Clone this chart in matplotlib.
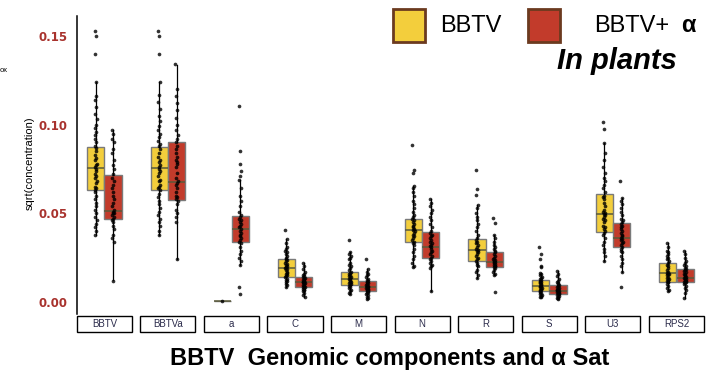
import numpy as np
import matplotlib.pyplot as plt
from matplotlib.patches import Rectangle
import matplotlib.transforms as mtransforms


#################################################
# Data (values are x 1000)
components = ["BBTV", "BBTVa", "a", "C", "M", "N", "R", "S", "U3", "RPS2"]

# BBTV alone
bbtv_q1 = [63.2, 63.2, 0.7, 14.3, 9.6, 33.7, 23.1, 6.4, 39.4, 11.5]
bbtv_med = [75.8, 75.8, 0.7, 19.0, 13.0, 40.6, 29.3, 9.2, 49.6, 16.2]
bbtv_q3 = [87.6, 87.6, 0.7, 24.1, 17.1, 46.6, 35.3, 12.4, 60.7, 22.2]
bbtv_lo = [37.8, 37.8, 0.7, 8.6, 4.3, 19.6, 13.3, 2.6, 23.3, 6.4]
bbtv_hi = [123.9, 123.9, 0.7, 35.5, 28.4, 65.6, 54.7, 16.2, 89.5, 33.1]

# BBTV + alpha sat
alpha_q1 = [46.6, 57.5, 33.7, 8.3, 6.2, 24.6, 19.9, 4.3, 31.2, 11.5]
alpha_med = [51.3, 67.7, 41.0, 11.5, 8.6, 31.2, 22.7, 6.4, 35.9, 13.4]
alpha_q3 = [71.6, 90.4, 48.7, 13.9, 12.0, 39.7, 28.4, 9.6, 44.4, 18.4]
alpha_lo = [12.4, 24.1, 20.9, 3.0, 1.7, 6.4, 15.2, 1.7, 17.1, 2.1]
alpha_hi = [97.0, 133.7, 68.8, 21.8, 18.4, 58.1, 37.8, 17.7, 58.5, 28.8]

bbtv_points = [
    [153, 150, 140, 124, 116, 114, 110, 106, 103, 100, 98, 96, 94, 92, 90, 88, 87, 85, 83, 81, 80, 78, 77,
     76, 75, 74, 72, 71, 70, 68, 67, 65, 64, 63, 62, 60, 58, 56, 54, 52, 50, 48, 46, 44, 42, 40, 38],
    [153, 150, 140, 124, 117, 113, 109, 105, 102, 99, 97, 95, 93, 91, 89, 88, 86, 84, 82, 80, 79, 77, 76,
     75, 74, 73, 71, 69, 68, 66, 65, 64, 63, 61, 59, 57, 55, 53, 51, 49, 47, 45, 43, 40, 38],
    [0.7],
    [40.6, 35.5, 33, 31, 30, 29, 28, 27, 26, 25, 24, 23.5, 23, 22, 21.5, 21, 20, 19.5, 19, 18.5, 18, 17,
     16.5, 16, 15, 14.5, 14, 13, 12.5, 12, 11, 10, 9.5, 8.6],
    [35, 28.4, 27, 26, 25, 24, 22, 21, 20, 19, 18, 17, 16.5, 16, 15, 14.5, 14, 13.5, 13, 12.5, 12, 11.5,
     11, 10.5, 10, 9.5, 9, 8.5, 8, 7, 6, 5, 4.3],
    [88.6, 74.5, 73, 65.6, 64, 62, 60, 57, 55, 53, 51, 49, 48, 47, 46, 45, 44, 43, 42, 41, 40.5, 40, 39,
     38, 37, 36, 35, 34, 33, 32, 30, 28, 26, 24, 22, 20.5, 19.6],
    [74.5, 63.5, 60.3, 54.7, 53, 50, 48, 46, 44, 42, 40, 38, 36, 35, 34, 33, 32, 31, 30, 29.5, 29, 28, 27,
     26, 25, 24, 23, 22, 21, 20, 18, 17, 15, 13.3],
    [31.2, 27.1, 24.3, 20.5, 19.5, 16.2, 15.5, 15, 14, 13.5, 13, 12.5, 12, 11.5, 11, 10.5, 10, 9.5, 9.2, 9,
     8.5, 8, 7.5, 7, 6.5, 6, 5.5, 5, 4.5, 4, 3.5, 3, 2.6],
    [101.3, 97.6, 89.5, 84, 80, 76, 73, 70, 68, 66, 64, 62, 60, 59, 58, 56, 54, 52, 51, 50, 49.5, 49, 48,
     47, 46, 45, 43, 42, 41, 40, 39, 38, 36, 34, 32, 30, 28, 26, 23.3],
    [33.1, 31, 29, 28, 27, 26, 25, 24, 23, 22, 21, 20, 19, 18, 17, 16.5, 16, 15.5, 15, 14, 13.5, 13, 12.5,
     12, 11.5, 11, 10, 9, 8, 7, 6.4],
]

alpha_points = [
    [97, 95, 92, 90, 86, 84, 80, 77, 75, 72, 70, 68, 66, 64, 62, 60, 58, 56, 54, 52, 51, 50, 50, 49, 48,
     47, 46, 45, 43, 41, 38, 36, 34, 12],
    [134, 120, 116, 112, 108, 104, 100, 97, 94, 92, 90, 88, 86, 84, 82, 80, 79, 78, 76, 73, 70, 68, 67,
     66, 64, 62, 60, 59, 58, 57, 55, 52, 50, 48, 45, 24],
    [110.7, 85.2, 77.8, 74.1, 71.2, 68.8, 64, 60, 57, 54, 51, 49, 48, 47, 46, 45, 44, 43, 42, 41, 40, 39,
     38, 37, 36, 35, 34, 33, 31, 29, 27, 25, 23, 21, 8.6, 4.3],
    [21.8, 20, 18.5, 17, 16, 15, 14.5, 14, 13.5, 13, 12.5, 12, 11.8, 11.5, 11.2, 11, 10.5, 10, 9.5, 9, 8.5,
     8.2, 8, 7.5, 7, 6.5, 6, 5, 4, 3],
    [24.3, 18.4, 17, 16, 15, 14, 13, 12.5, 12, 11.5, 11, 10.5, 10, 9.5, 9, 8.8, 8.6, 8.4, 8, 7.5, 7, 6.5,
     6.2, 6, 5.5, 5, 4.5, 4, 3, 2.5, 1.7],
    [58.1, 56, 54, 52, 50, 48, 46, 44, 42, 40, 39, 38, 37, 36, 35, 34, 33, 32, 31.5, 31, 30, 29, 28, 27,
     26, 25, 24, 23, 22, 21, 20, 19, 6.4],
    [47.2, 44.7, 37.8, 36, 34, 32, 31, 30, 29, 28, 27, 26, 25, 24, 23.5, 23, 22.7, 22.3, 22, 21.5, 21,
     20.5, 20, 19.5, 19, 18, 17, 16, 15.2, 5.5],
    [17.7, 16, 14.5, 13, 12, 11, 10.5, 10, 9.5, 9, 8.5, 8, 7.5, 7, 6.8, 6.5, 6.2, 6, 5.5, 5, 4.8, 4.5, 4.2,
     4, 3.5, 3, 2.5, 2, 1.7],
    [68.4, 58.5, 57, 55, 53, 51, 49, 47, 46, 45, 44, 43, 42, 41, 40, 39, 38, 37, 36, 35.5, 35, 34, 33, 32,
     31, 30, 29, 28, 26, 24, 22, 20, 17.1, 8.6],
    [28.8, 27, 25, 23, 22, 21, 20, 19, 18.5, 18, 17.5, 17, 16, 15.5, 15, 14.5, 14, 13.5, 13.4, 13, 12.5,
     12, 11.8, 11.5, 11, 10.5, 10, 9, 8, 7, 5, 2.1],
]

yellow = "#F3CE3C"
red = "#C23B2B"
brown = "#A8322D"


#################################################
def make_stats(q1, med, q3, lo, hi):
    out = []
    for i in range(len(q1)):
        out.append(dict(q1=q1[i] / 1000, med=med[i] / 1000, q3=q3[i] / 1000,
                        whislo=lo[i] / 1000, whishi=hi[i] / 1000, fliers=[]))
    return out


fig = plt.figure(figsize=(7.13, 3.76), dpi=100)
ax = fig.add_axes([77 / 713, 1 - 314 / 376, (705 - 77) / 713, 298 / 376])

x = np.arange(len(components))
off = 0.137
w = 0.27

for stats, pos, col in [(make_stats(bbtv_q1, bbtv_med, bbtv_q3, bbtv_lo, bbtv_hi), x - off, yellow),
                        (make_stats(alpha_q1, alpha_med, alpha_q3, alpha_lo, alpha_hi), x + off, red)]:
    ax.bxp(stats, positions=pos, widths=w, patch_artist=True, showfliers=False, showcaps=False,
           boxprops=dict(facecolor=col, edgecolor="#7a7a7a", linewidth=1.0),
           medianprops=dict(color="#5a5a3a", linewidth=1.1),
           whiskerprops=dict(color="black", linewidth=0.9))

# jittered points
for points, pos in [(bbtv_points, x - off), (alpha_points, x + off)]:
    for i, vals in enumerate(points):
        n = len(vals)
        jit = ((np.arange(n) * 0.618) % 1 - 0.5) * 0.035
        ax.scatter(pos[i] + jit, np.array(vals) / 1000, s=7, c="black", alpha=0.8,
                   linewidths=0, zorder=4)

ax.set_xlim(-0.43, 9.45)
ax.set_ylim(-0.0068, 0.1613)
ax.set_yticks([0, 0.05, 0.10, 0.15])
ax.set_yticklabels(["0.00", "0.05", "0.10", "0.15"])
ax.tick_params(axis="y", length=0, pad=7, labelsize=8.5, labelcolor=brown)
for lab in ax.get_yticklabels():
    lab.set_fontweight("bold")
ax.set_xticks([])
for s in ["top", "right", "bottom"]:
    ax.spines[s].set_visible(False)
ax.spines["left"].set_linewidth(1.1)

# facet strips at the bottom
trans = mtransforms.blended_transform_factory(ax.transData, ax.transAxes)
for i, name in enumerate(components):
    ax.add_patch(Rectangle((i - 0.433, -0.062), 0.866, 0.056, transform=trans, clip_on=False,
                           facecolor="white", edgecolor="black", linewidth=1.0))
    ax.text(i, -0.034, name, transform=trans, ha="center", va="center", fontsize=7,
            color="#2b2b4b", family="Liberation Sans")

fig.text(30 / 713, 1 - 163 / 376, "sqrt(concentration)", rotation=90, ha="center", va="center",
         fontsize=8, family="Liberation Sans")
fig.text(0.0, 1 - 70 / 376, "ox", fontsize=5.5, va="center", family="Liberation Sans")

fig.text(390 / 713, 1 - 358 / 376, "BBTV  Genomic components and α Sat", ha="center", va="center",
         fontsize=17, fontweight="bold", family="Liberation Sans")

# legend
for x0, col in [(393, yellow), (528, red)]:
    fig.add_artist(Rectangle((x0 / 713, 1 - 42 / 376), 32 / 713, 33 / 376, transform=fig.transFigure,
                             facecolor=col, edgecolor="#6B3A1F", linewidth=2))
fig.text(440 / 713, 1 - 26 / 376, "BBTV", ha="left", va="center", fontsize=17, family="Liberation Sans")
fig.text(594 / 713, 1 - 26 / 376, "BBTV+", ha="left", va="center", fontsize=17, family="Liberation Sans")
fig.text(681 / 713, 1 - 26 / 376, "α", ha="left", va="center", fontsize=17, fontweight="bold",
         family="Liberation Sans")
fig.text(617 / 713, 1 - 61 / 376, "In plants", ha="center", va="center", fontsize=21, fontweight="bold",
         fontstyle="italic", family="Liberation Sans")

plt.savefig("out.png", dpi=100)
